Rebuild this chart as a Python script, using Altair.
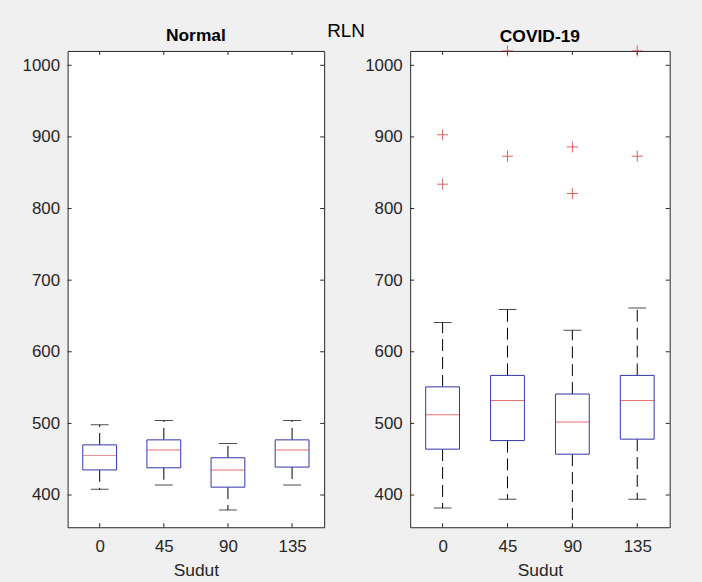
import altair as alt
import pandas as pd

angles = ["0", "45", "90", "135"]

normal_low = [408, 414, 379, 414]
normal_q1 = [435, 438, 411, 439]
normal_med = [455, 463, 435, 463]
normal_q3 = [470, 477, 452, 477]
normal_high = [498, 504, 472, 504]

covid_low = [382, 394, 345, 394]
covid_q1 = [464, 476, 457, 478]
covid_med = [512, 532, 502, 532]
covid_q3 = [551, 567, 541, 567]
covid_high = [641, 659, 630, 661]

covid_out_angle = ["0", "0", "45", "45", "90", "90", "135", "135"]
covid_out_value = [903, 834, 1020, 873, 886, 821, 1020, 873]

y_ticks = [400, 500, 600, 700, 800, 900, 1000]

FONT = "Liberation Sans"
AX = "#262626"
BOX = "#3333aa"
MED = "#dd3333"
OUT = "#cc2020"
H = 479


def panel(title, lo, q1, med, q3, hi, out_a, out_v, w, title_offset):
    stats = pd.DataFrame({"angle": angles, "lo": lo, "q1": q1, "med": med, "q3": q3, "hi": hi})
    ticks = pd.DataFrame({"t": y_ticks})
    y_scale = alt.Scale(domain=[355, 1020], nice=False, zero=False)
    y_axis = alt.Axis(title=None, values=y_ticks, format="d", ticks=False, tickSize=0, domain=False, grid=False,
                      labelFont=FONT, labelFontSize=17, labelColor=AX, labelPadding=8)
    x_enc = alt.X("angle:N", sort=angles, scale=alt.Scale(type="point", padding=0.5),
                  axis=alt.Axis(title="Sudut", labelAngle=0, ticks=False, tickSize=0, domain=False, grid=False,
                                labelFont=FONT, labelFontSize=17, labelColor=AX, labelPadding=11,
                                titleFont=FONT, titleFontSize=17.5, titleFontWeight="normal",
                                titleColor=AX, titlePadding=7.5))

    def Y(f):
        return alt.Y(f, type="quantitative", scale=y_scale, axis=y_axis)

    base = alt.Chart(stats)
    layers = [
        base.mark_rule(color="black", strokeDash=[12, 6], strokeWidth=1, clip=True).encode(x=x_enc, y=Y("q1"), y2="lo"),
        base.mark_rule(color="black", strokeDash=[12, 6], strokeWidth=1, clip=True).encode(x=x_enc, y=Y("q3"), y2="hi"),
        base.mark_tick(color="black", size=18, thickness=1, clip=True).encode(x=x_enc, y=Y("lo")),
        base.mark_tick(color="black", size=18, thickness=1, clip=True).encode(x=x_enc, y=Y("hi")),
        base.mark_bar(size=34, fill="white", stroke=BOX, strokeWidth=1).encode(x=x_enc, y=Y("q1"), y2="q3"),
        base.mark_tick(color=MED, size=34, thickness=1).encode(x=x_enc, y=Y("med")),
        alt.Chart(ticks).mark_rule(color=AX).encode(y=Y("t"), x=alt.value(0), x2=alt.value(4)),
        alt.Chart(ticks).mark_rule(color=AX).encode(y=Y("t"), x=alt.value(w - 4), x2=alt.value(w)),
        base.mark_rule(color=AX).encode(x=x_enc, y=alt.value(0), y2=alt.value(4)),
        base.mark_rule(color=AX).encode(x=x_enc, y=alt.value(H - 4), y2=alt.value(H)),
    ]
    if out_a:
        outs = pd.DataFrame({"angle": out_a, "v": out_v})
        layers.append(
            alt.Chart(outs).mark_point(shape="M-1,0L1,0M0,-1L0,1", size=121, filled=False,
                                       color=OUT, strokeWidth=1).encode(x=x_enc, y=Y("v"))
        )
    return alt.layer(*layers).properties(
        width=w, height=H,
        title=alt.TitleParams(title, font=FONT, fontSize=17.5, fontWeight="bold", color="black",
                              offset=title_offset),
    )


left = panel("Normal", normal_low, normal_q1, normal_med, normal_q3, normal_high, [], [], 258, 5.6)
right = panel("COVID-19", covid_low, covid_q1, covid_med, covid_q3, covid_high,
              covid_out_angle, covid_out_value, 261, -2.4)

chart = alt.hconcat(left, right, spacing=38.5).properties(
    title=alt.TitleParams("RLN", font=FONT, fontSize=19, fontWeight="normal", color="black",
                          anchor="middle", offset=-14),
    padding={"left": 21, "top": 19.6, "right": 31, "bottom": 0},
    background="#f0f0f0",
).configure_view(stroke=AX, strokeWidth=1, fill="white")

chart.save("out.html", embed_options={"renderer": "svg", "actions": False})
